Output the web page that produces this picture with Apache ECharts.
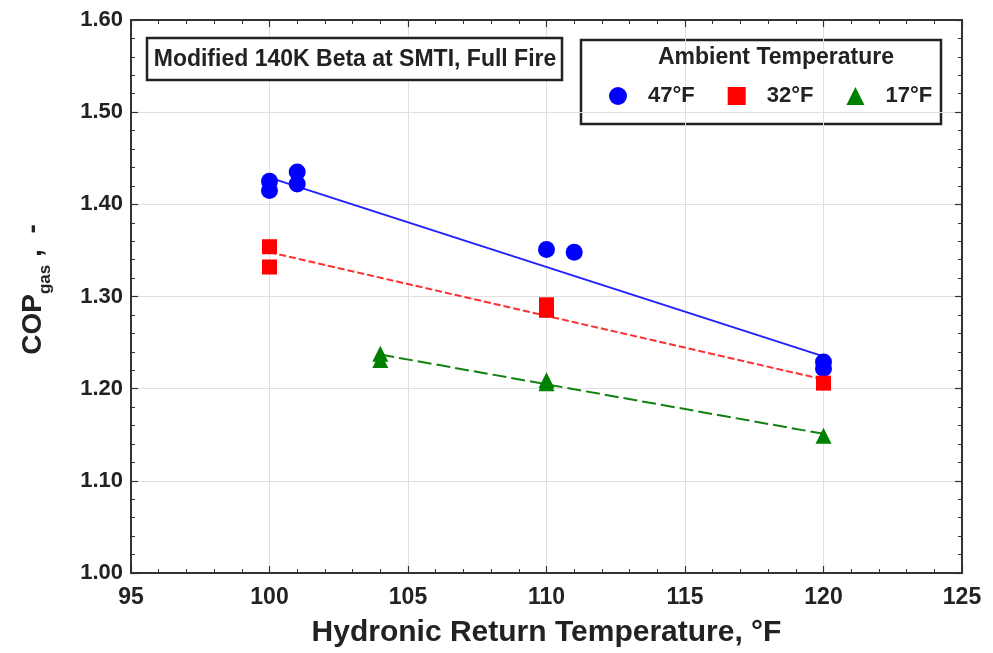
<!DOCTYPE html>
<html><head><meta charset="utf-8">
<script src="https://cdn.jsdelivr.net/npm/echarts@6/dist/echarts.min.js"></script>
<style>html,body{margin:0;padding:0;background:#fff}#c{width:993px;height:653px}</style>
</head><body><div id="c"></div>
<script>
const xTicks = [95, 100, 105, 110, 115, 120, 125];
const yTicks = [1.00, 1.10, 1.20, 1.30, 1.40, 1.50, 1.60];
const pts47 = [[100, 1.425], [100, 1.415], [101, 1.435], [101, 1.422], [110, 1.351], [111, 1.348], [120, 1.229], [120, 1.222]];
const pts32 = [[100, 1.354], [100, 1.332], [110, 1.291], [110, 1.285], [120, 1.206]];
const pts17 = [[104, 1.238], [104, 1.231], [110, 1.209], [110, 1.206], [120, 1.149]];
const fit47 = [[100, 1.429], [120, 1.235]];
const fit32 = [[100, 1.348], [120, 1.210]];
const fit17 = [[104, 1.237], [120, 1.151]];
const seriesNames = ['47°F', '32°F', '17°F'];
const legendTitle = 'Ambient Temperature';
const boxTitle = 'Modified 140K Beta at SMTI, Full Fire';

const font = '"Liberation Sans", Arial, sans-serif';
const chart = echarts.init(document.getElementById('c'));
const tickCommon = {show: true, inside: true, length: 7, lineStyle: {color: '#333', width: 1.2}};
const minorCommon = {show: true, splitNumber: 5, length: 4, lineStyle: {color: '#333', width: 1}};
chart.setOption({
  animation: false,
  backgroundColor: '#fff',
  grid: {left: 131, right: 31, top: 20, bottom: 77, show: true, borderColor: '#333', borderWidth: 2},
  xAxis: [{
    type: 'value', min: xTicks[0], max: xTicks[xTicks.length - 1], interval: 5,
    axisLine: {show: true, lineStyle: {color: '#333', width: 2}},
    axisTick: tickCommon, minorTick: minorCommon,
    splitLine: {show: true, lineStyle: {color: '#e0e0e0', width: 1}},
    axisLabel: {color: '#222', fontFamily: font, fontWeight: 'bold', fontSize: 23, margin: 13},
    name: 'Hydronic Return Temperature, °F', nameLocation: 'middle', nameGap: 45,
    nameTextStyle: {color: '#222', fontFamily: font, fontWeight: 'bold', fontSize: 30}
  }, {
    type: 'value', position: 'top', min: xTicks[0], max: xTicks[xTicks.length - 1], interval: 5,
    axisLine: {show: true, lineStyle: {color: '#333', width: 2}},
    axisTick: tickCommon, minorTick: minorCommon, axisLabel: {show: false}, splitLine: {show: false}
  }],
  yAxis: [{
    type: 'value', min: yTicks[0], max: yTicks[yTicks.length - 1], interval: 0.1,
    axisLine: {show: true, lineStyle: {color: '#333', width: 2}},
    axisTick: tickCommon, minorTick: minorCommon,
    splitLine: {show: true, lineStyle: {color: '#e0e0e0', width: 1}},
    axisLabel: {color: '#222', fontFamily: font, fontWeight: 'bold', fontSize: 22, margin: 8,
      formatter: v => v.toFixed(2)},
    name: '{a|COP}{b|gas}{a| ,  -}', nameLocation: 'middle', nameGap: 84, nameRotate: 90,
    nameTextStyle: {padding: [0, 0, 0, 14], rich: {
      a: {color: '#222', fontFamily: font, fontWeight: 'bold', fontSize: 28, verticalAlign: 'bottom', lineHeight: 34},
      b: {color: '#222', fontFamily: font, fontWeight: 'bold', fontSize: 17, verticalAlign: 'bottom', lineHeight: 22, padding: [0, 0, -7, 0]}
    }}
  }, {
    type: 'value', position: 'right', min: yTicks[0], max: yTicks[yTicks.length - 1], interval: 0.1,
    axisLine: {show: true, lineStyle: {color: '#333', width: 2}},
    axisTick: tickCommon, minorTick: minorCommon, axisLabel: {show: false}, splitLine: {show: false}
  }],
  legend: {
    data: seriesNames, left: 604, top: 80, itemWidth: 18, itemHeight: 18, itemGap: 33,
    textStyle: {color: '#222', fontFamily: font, fontWeight: 'bold', fontSize: 22, padding: [0, 0, 0, 16]}
  },
  graphic: [
    {type: 'rect', shape: {x: 147, y: 38, width: 415, height: 42}, style: {fill: '#fff', stroke: '#222', lineWidth: 2.5}, z: 100},
    {type: 'text', x: 355, y: 60, style: {text: boxTitle, fill: '#222', font: 'bold 23px ' + font, textAlign: 'center', textVerticalAlign: 'middle'}, z: 101},
    {type: 'rect', shape: {x: 581, y: 40, width: 360, height: 84}, style: {fill: '#fff', stroke: '#222', lineWidth: 2.5}, z: 0},
    {type: 'text', x: 776, y: 58, style: {text: legendTitle, fill: '#222', font: 'bold 23px ' + font, textAlign: 'center', textVerticalAlign: 'middle'}, z: 101}
  ],
  series: [
    {name: seriesNames[0], type: 'scatter', data: pts47, symbol: 'circle', symbolSize: 17, itemStyle: {color: '#0000ff', opacity: 1}, z: 5},
    {name: seriesNames[1], type: 'scatter', data: pts32, symbol: 'rect', symbolSize: 15, itemStyle: {color: '#ff0000', opacity: 1}, z: 5},
    {name: seriesNames[2], type: 'scatter', data: pts17, symbol: 'triangle', symbolSize: 16, itemStyle: {color: '#008000', opacity: 1}, z: 5},
    {name: 'fit47', type: 'line', data: fit47, showSymbol: false, lineStyle: {color: '#2020ff', width: 2}, z: 4},
    {name: 'fit32', type: 'line', data: fit32, showSymbol: false, lineStyle: {color: '#ff3030', width: 2, type: [7, 3]}, z: 4},
    {name: 'fit17', type: 'line', data: fit17, showSymbol: false, lineStyle: {color: '#108010', width: 2, type: [14, 5]}, z: 4}
  ]
});
</script></body></html>
